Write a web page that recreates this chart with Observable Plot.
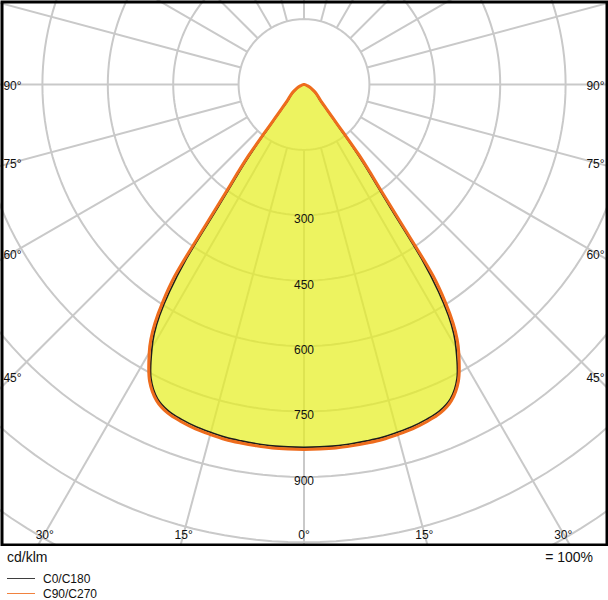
<!DOCTYPE html>
<html><head><meta charset="utf-8">
<script src="https://cdn.jsdelivr.net/npm/d3@7"></script>
<script src="https://cdn.jsdelivr.net/npm/@observablehq/plot@0.6"></script>
<style>
body{margin:0;background:#fff;font-family:"Liberation Sans",Arial,Helvetica,sans-serif;color:#111;}
#wrap{width:608px;position:relative;}
#foot{position:relative;width:608px;height:54px;}
#foot .t{position:absolute;white-space:nowrap;}
#foot .ln{position:absolute;height:0;}
</style></head><body><div id="wrap"><div id="chart"></div><div id="foot"></div></div>
<script>
// ---- data (cd/klm), polar angle from nadir in degrees ----
const angles   = [0,2.5,5,7.5,10,12.5,15,17.5,20,22.5,25,27.5,30,31,32,33,34,35,36,37,38,39,40,42.5,45,50,55,60,65,70,75,80,85,90];
const c0c180   = [832,832,832,831,830,829,826,823,818,811,795,760,697,667,625,566,482,348,276,228,180,135,106,71,53,39,29,20,13,8,4,2,1,0];
const c90c270  = [837,837,837,836,835,834,831,828,823,816,800,767,710,682,645,595,530,390,300,250,205,155,118,78,58,42,32,22,15,9,5,2,1,0];
const seriesNames  = ["C0/C180","C90/C270"];
const seriesColors = ["#1c1c1c","#ee6c1d"];
const ringValues   = [150,300,450,600,750,900,1050,1200];
const ringLabels   = [300,450,600,750,900];
const gridAngles   = d3.range(0,360,15);
const sideAngleLabels   = [45,60,75,90];
const bottomAngleLabels = [0,15,30];
const unitLabel  = "cd/klm";
const scaleLabel = "= 100%";

// ---- geometry ----
const W = 608, H = 546, cx = 303.5, cy = 84, k = 0.436; // px per cd/klm
const rad = d => d * Math.PI / 180;
const polar = (deg, v) => ({x: v * Math.sin(rad(deg)), y: v * Math.cos(rad(deg))});

function seriesPoints(vals, name) {
  const pts = [];
  for (let i = angles.length - 1; i >= 1; i--) pts.push({...polar(-angles[i], vals[i]), s: name});
  for (let i = 0; i < angles.length - 1; i++) pts.push({...polar(angles[i], vals[i]), s: name});
  return pts;
}
const curveC0  = seriesPoints(c0c180, seriesNames[0]);
const curveC90 = seriesPoints(c90c270, seriesNames[1]);

const ringPts = ringValues.flatMap(v => d3.range(0, 361, 2).map(a => ({...polar(a, v), v})));
const spokes = gridAngles.map(a => {
  const p1 = polar(a, 150), p2 = polar(a, 2500);
  return {x1: p1.x, y1: p1.y, x2: p2.x, y2: p2.y};
});

// angle labels: placed on the spokes near the frame
const sideOff = 291.5 / k, botOff = 449 / k;
const angleLabels = [];
for (const a of sideAngleLabels) for (const s of [-1, 1])
  angleLabels.push({x: s * sideOff, y: sideOff / Math.tan(rad(a)), t: a + "°"});
for (const a of bottomAngleLabels) for (const s of (a === 0 ? [1] : [-1, 1]))
  angleLabels.push({x: s * botOff * Math.tan(rad(a)), y: botOff, t: a + "°"});

const chart = Plot.plot({
  width: W, height: H,
  margin: 0,
  x: {domain: [-cx / k, (W - cx) / k], range: [0, W], axis: null},
  y: {domain: [-cy / k, (H - cy) / k], range: [0, H], axis: null},
  style: {fontFamily: "'Liberation Sans', Arial, Helvetica, sans-serif", fontSize: "12px", background: "white", overflow: "hidden"},
  marks: [
    Plot.line(ringPts, {x: "x", y: "y", z: "v", stroke: "#c9c9c9", strokeWidth: 2, clip: true}),
    Plot.link(spokes, {x1: "x1", y1: "y1", x2: "x2", y2: "y2", stroke: "#c9c9c9", strokeWidth: 2, clip: true}),
    Plot.line(curveC90, {x: "x", y: "y", curve: "catmull-rom-closed", fill: "#e6ee22", fillOpacity: 0.72, stroke: "none"}),
    Plot.line(curveC0, {x: "x", y: "y", curve: "catmull-rom-closed", stroke: seriesColors[0], strokeWidth: 1.6}),
    Plot.line(curveC90, {x: "x", y: "y", curve: "catmull-rom-closed", stroke: seriesColors[1], strokeWidth: 3}),
    Plot.text(ringLabels, {x: 0, y: d => d, text: d => String(d), dy: 4, fill: "#111", fontSize: 12}),
    Plot.text(angleLabels, {x: "x", y: "y", text: "t", dy: 2, fill: "#111", fontSize: 12}),
    Plot.frame({stroke: "black", strokeWidth: 3, inset: 1.5})
  ]
});
document.getElementById("chart").appendChild(chart);

// ---- footer: unit, scale and legend ----
const foot = document.getElementById("foot");
function addText(txt, css) { const e = document.createElement("div"); e.className = "t"; e.textContent = txt; Object.assign(e.style, css); foot.appendChild(e); }
addText(unitLabel, {left: "7px", top: "2px", fontSize: "14px", lineHeight: "18px"});
addText(scaleLabel, {right: "15px", top: "2px", fontSize: "14px", lineHeight: "18px"});
seriesNames.forEach((n, i) => {
  const yLine = 32 + i * 14.5;
  const ln = document.createElement("div"); ln.className = "ln";
  Object.assign(ln.style, {left: "7px", width: "28px", top: yLine + "px", borderTop: "1px solid " + seriesColors[i], opacity: 0.85});
  foot.appendChild(ln);
  addText(n, {left: "43px", top: (yLine - 6) + "px", fontSize: "12px", lineHeight: "14px"});
});
</script></body></html>
